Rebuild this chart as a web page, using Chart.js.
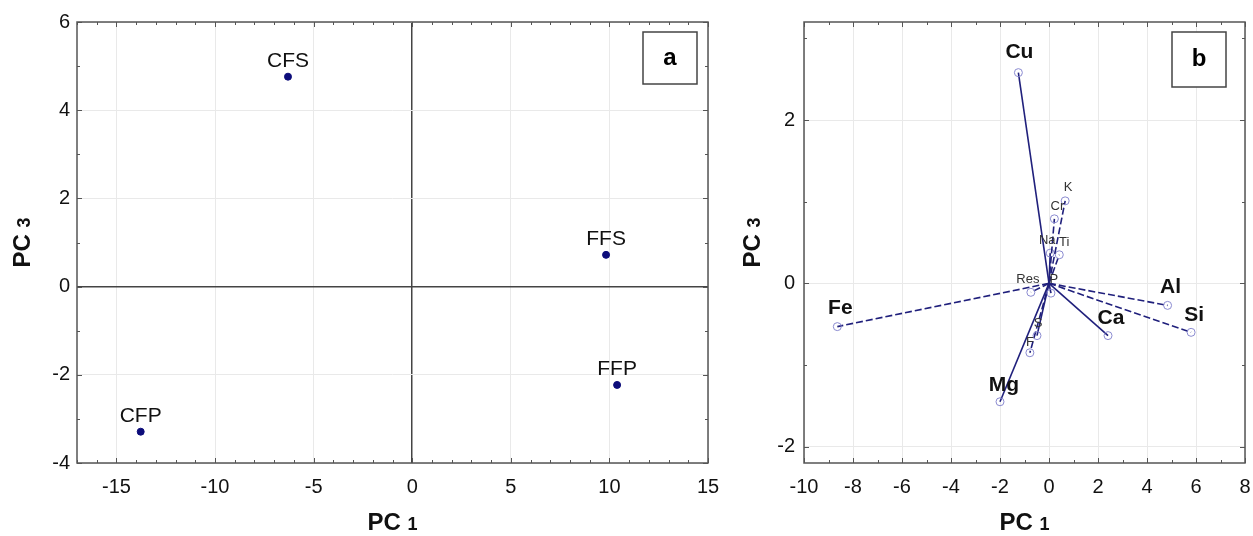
<!DOCTYPE html>
<html>
<head>
<meta charset="utf-8">
<script src="https://cdn.jsdelivr.net/npm/chart.js@4.4.1/dist/chart.umd.min.js"></script>
<style>
  body { margin: 0; background: #fff; }
  #wrap { position: relative; width: 1253px; height: 536px; }
  canvas { position: absolute; top: 0; }
  #pcaA { left: 0; }
  #pcaB { left: 725px; }
</style>
</head>
<body>
<div id="wrap">
  <canvas id="pcaA" width="725" height="536"></canvas>
  <canvas id="pcaB" width="528" height="536"></canvas>
</div>
<script>
// panel a - sample scores
var sampleNames = ['CFS', 'FFS', 'FFP', 'CFP'];
var samplePC1 = [-6.3, 9.83, 10.39, -13.77];
var samplePC3 = [4.76, 0.72, -2.23, -3.29];
var xTicksA = [-15, -10, -5, 0, 5, 10, 15];
var yTicksA = [-4, -2, 0, 2, 4, 6];

// panel b - variable loadings
var varNames = ['Cu', 'K', 'Cr', 'Na', 'Ti', 'Res', 'P', 'Al', 'Si', 'Ca', 'S', 'F', 'Mg', 'Fe'];
var varPC1 = [-1.25, 0.66, 0.22, 0.05, 0.42, -0.74, 0.08, 4.84, 5.8, 2.41, -0.49, -0.78, -2.0, -8.64];
var varPC3 = [2.58, 1.01, 0.79, 0.37, 0.35, -0.11, -0.12, -0.27, -0.6, -0.64, -0.64, -0.85, -1.45, -0.53];
var xTicksB = [-10, -8, -6, -4, -2, 0, 2, 4, 6, 8];
var yTicksB = [-2, 0, 2];

// styling
var navy = '#0c0c7a';
var lineCol = '#20207c';
var font = '"Liberation Sans", Arial, sans-serif';
var dashedVars = ['Fe', 'Al', 'Si', 'K', 'Cr', 'Ti', 'Res', 'F'];
var boldVars = ['Cu', 'Fe', 'Al', 'Si', 'Ca', 'Mg'];
var labelOffset = {
  Cu: [1, -20], Fe: [3, -18], Al: [3, -18], Si: [3, -17], Ca: [3, -17], Mg: [4, -17],
  K: [3, -13], Cr: [3, -12], Na: [-3, -13], Ti: [5, -12], Res: [-3, -13], P: [3, -14],
  S: [1, -12], F: [0, -10]
};

function fixedTicks(list) {
  return function (scale) {
    scale.ticks = list.map(function (v) { return { value: v }; });
  };
}

// frame, inner ticks, axis titles, panel letter
function decorPlugin(opt) {
  return {
    id: 'decor',
    afterDraw: function (chart) {
      var c = chart.ctx, a = chart.chartArea;
      var xs = chart.scales.x, ys = chart.scales.y;
      c.save();
      c.strokeStyle = '#555';
      c.lineWidth = 1.5;
      c.strokeRect(a.left, a.top, a.right - a.left, a.bottom - a.top);

      c.lineWidth = 1;
      c.beginPath();
      for (var v = Math.ceil(xs.min); v <= xs.max; v += 1) {
        var px = Math.round(xs.getPixelForValue(v)) + 0.5;
        var len = opt.xTicks.indexOf(v) >= 0 ? 5 : 3;
        c.moveTo(px, a.bottom); c.lineTo(px, a.bottom - len);
        c.moveTo(px, a.top); c.lineTo(px, a.top + len);
      }
      for (var w = Math.ceil(ys.min); w <= ys.max; w += 1) {
        var py = Math.round(ys.getPixelForValue(w)) + 0.5;
        var l2 = opt.yTicks.indexOf(w) >= 0 ? 5 : 3;
        c.moveTo(a.left, py); c.lineTo(a.left + l2, py);
        c.moveTo(a.right, py); c.lineTo(a.right - l2, py);
      }
      c.stroke();

      // axis titles "PC 1" / "PC 3"
      c.fillStyle = '#111';
      c.textBaseline = 'alphabetic';
      function title(sub, cx, cy, rot) {
        c.save();
        c.translate(cx, cy);
        c.rotate(rot);
        c.font = 'bold 24px ' + font;
        var w1 = c.measureText('PC ').width;
        c.font = 'bold 18px ' + font;
        var w2 = c.measureText(sub).width;
        var x0 = -(w1 + w2) / 2;
        c.font = 'bold 24px ' + font;
        c.textAlign = 'left';
        c.fillText('PC ', x0, 8);
        c.font = 'bold 18px ' + font;
        c.fillText(sub, x0 + w1, 8);
        c.restore();
      }
      title('1', (a.left + a.right) / 2, opt.xTitleY, 0);
      title('3', opt.yTitleX, (a.top + a.bottom) / 2, -Math.PI / 2);

      // panel letter box
      var b = opt.box;
      c.fillStyle = '#fff';
      c.fillRect(b[0], b[1], b[2], b[3]);
      c.strokeStyle = '#444';
      c.lineWidth = 1.5;
      c.strokeRect(b[0], b[1], b[2], b[3]);
      c.fillStyle = '#000';
      c.font = 'bold 24px ' + font;
      c.textAlign = 'center';
      c.textBaseline = 'middle';
      c.fillText(opt.letter, b[0] + b[2] / 2, b[1] + b[3] / 2);
      c.restore();
    }
  };
}

var sampleLabels = {
  id: 'sampleLabels',
  afterDatasetsDraw: function (chart) {
    var c = chart.ctx;
    var meta = chart.getDatasetMeta(0);
    c.save();
    c.font = '21px ' + font;
    c.fillStyle = '#111';
    c.textAlign = 'center';
    c.textBaseline = 'alphabetic';
    meta.data.forEach(function (pt, i) {
      c.fillText(sampleNames[i], pt.x, pt.y - 10);
    });
    c.restore();
  }
};

var varLabels = {
  id: 'varLabels',
  afterDatasetsDraw: function (chart) {
    var c = chart.ctx;
    c.save();
    c.textAlign = 'center';
    c.textBaseline = 'middle';
    varNames.forEach(function (name, i) {
      var pt = chart.getDatasetMeta(i).data[1];
      var off = labelOffset[name];
      if (boldVars.indexOf(name) >= 0) {
        c.font = 'bold 21px ' + font;
        c.fillStyle = '#111';
      } else {
        c.font = '13px ' + font;
        c.fillStyle = '#333';
      }
      c.fillText(name, pt.x + off[0], pt.y + off[1]);
    });
    c.restore();
  }
};

function axisOpts(min, max, ticks, isX, size, pad, zeroDark) {
  return {
    type: 'linear',
    min: min,
    max: max,
    afterBuildTicks: fixedTicks(ticks),
    afterFit: function (scale) {
      if (isX) {
        scale.height = size;
        scale.paddingLeft = 0;
        scale.paddingRight = 0;
      } else {
        scale.width = size;
        scale.paddingTop = 0;
        scale.paddingBottom = 0;
      }
    },
    border: { display: false },
    grid: {
      drawTicks: false,
      color: function (ctx) {
        if (zeroDark && ctx.tick && ctx.tick.value === 0) return '#444';
        return '#e9e9e9';
      },
      lineWidth: function (ctx) {
        return (zeroDark && ctx.tick && ctx.tick.value === 0) ? 1.5 : 1;
      }
    },
    ticks: {
      color: '#111',
      padding: pad,
      font: { family: font, size: 20 },
      maxRotation: 0,
      autoSkip: false
    }
  };
}

var ctxA = document.getElementById('pcaA').getContext('2d');
var chartA = new Chart(ctxA, {
  type: 'scatter',
  data: {
    datasets: [{
      data: sampleNames.map(function (n, i) { return { x: samplePC1[i], y: samplePC3[i] }; }),
      backgroundColor: navy,
      borderColor: navy,
      pointRadius: 3.5
    }]
  },
  options: {
    responsive: false,
    animation: false,
    devicePixelRatio: 1,
    layout: { padding: { top: 22, right: 17, left: 0, bottom: 0 } },
    plugins: { legend: { display: false }, tooltip: { enabled: false } },
    scales: {
      x: axisOpts(-17, 15, xTicksA, true, 73, 12, true),
      y: axisOpts(-4, 6, yTicksA, false, 77, 7, true)
    }
  },
  plugins: [sampleLabels, decorPlugin({
    xTicks: xTicksA, yTicks: yTicksA, xTitleY: 522, yTitleX: 22,
    box: [643, 32, 54, 52], letter: 'a'
  })]
});

var ctxB = document.getElementById('pcaB').getContext('2d');
var chartB = new Chart(ctxB, {
  type: 'scatter',
  data: {
    datasets: varNames.map(function (name, i) {
      return {
        data: [{ x: 0, y: 0 }, { x: varPC1[i], y: varPC3[i] }],
        showLine: true,
        borderColor: lineCol,
        borderWidth: 1.6,
        borderDash: dashedVars.indexOf(name) >= 0 ? [7, 3] : [],
        pointRadius: [0, 4],
        pointBackgroundColor: 'rgba(0,0,0,0)',
        pointBorderColor: '#8a8ad0',
        pointBorderWidth: 1
      };
    })
  },
  options: {
    responsive: false,
    animation: false,
    devicePixelRatio: 1,
    layout: { padding: { top: 22, right: 8, left: 0, bottom: 0 } },
    plugins: { legend: { display: false }, tooltip: { enabled: false } },
    scales: {
      x: axisOpts(-10, 8, xTicksB, true, 73, 12, false),
      y: axisOpts(-2.2, 3.2, yTicksB, false, 79, 9, false)
    }
  },
  plugins: [varLabels, decorPlugin({
    xTicks: xTicksB, yTicks: yTicksB, xTitleY: 522, yTitleX: 27,
    box: [447, 32, 54, 55], letter: 'b'
  })]
});
</script>
</body>
</html>
